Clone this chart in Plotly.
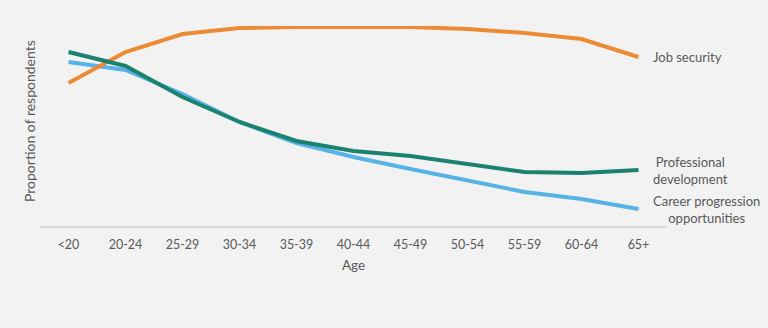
import plotly.graph_objects as go

# Age bands along the horizontal axis
age_groups = ["<20", "20-24", "25-29", "30-34", "35-39", "40-44",
              "45-49", "50-54", "55-59", "60-64", "65+"]

# Proportion of respondents (index scale) for each factor
job_security = [71.5, 87, 96, 99, 99.5, 99.5, 99.5, 98.5, 96.5, 93.5, 84.5]
professional_development = [87, 80, 64.5, 52, 42.5, 37.5, 35, 31, 27, 26.5, 28]
career_progression = [82, 78, 66, 52, 41.5, 34.5, 28.5, 23, 17, 13.5, 8.5]

series_names = ["Job security", "Professional<br>development",
                "Career progression<br>opportunities"]
series_values = [job_security, professional_development, career_progression]
series_colors = ["#ED8B35", "#1B8270", "#57B3E6"]

FONT = "Lato, 'Open Sans', sans-serif"
TEXT_COLOR = "#595959"

# Plot area in pixels
W, H = 768, 328
ML, MR, MT, MB = 40, 101, 26, 102
plot_w = W - ML - MR
plot_h = H - MT - MB

fig = go.Figure()

# Blue first so the green line sits on top where they overlap
for idx in [2, 0, 1]:
    fig.add_trace(go.Scatter(
        x=age_groups, y=series_values[idx], mode="lines",
        line=dict(color=series_colors[idx], width=4),
        name=series_names[idx], showlegend=False, hoverinfo="skip",
    ))

# End-of-line labels
for name, vals in zip(series_names, series_values):
    fig.add_annotation(
        x=age_groups[-1], y=vals[-1], xref="x", yref="y",
        text=name, showarrow=False, xanchor="left", yanchor="middle",
        xshift=12, align="center",
        font=dict(family=FONT, size=13, color=TEXT_COLOR),
    )

# Vertical axis caption
fig.add_annotation(
    x=(29 - ML) / plot_w, y=(H - MB - 121) / plot_h,
    xref="paper", yref="paper", xanchor="center", yanchor="middle",
    text="Proportion of respondents", textangle=-90, showarrow=False,
    font=dict(family=FONT, size=14, color=TEXT_COLOR),
)

fig.update_layout(
    width=W, height=H,
    margin=dict(l=ML, r=MR, t=MT, b=MB),
    paper_bgcolor="#F2F2F2", plot_bgcolor="#F2F2F2",
    font=dict(family=FONT, size=12, color=TEXT_COLOR),
    xaxis=dict(
        type="category", range=[-0.5, 10.5],
        showline=True, linecolor="#D9D9D9", linewidth=2,
        showgrid=False, ticks="", ticklabelstandoff=6,
        tickfont=dict(family=FONT, size=12.5, color=TEXT_COLOR),
        title=dict(text="Age", font=dict(family=FONT, size=13.5, color=TEXT_COLOR),
                   standoff=10),
    ),
    yaxis=dict(
        range=[0, 100], showticklabels=False, showgrid=False,
        zeroline=False, showline=False, ticks="",
    ),
)

fig.write_html("out.html")
